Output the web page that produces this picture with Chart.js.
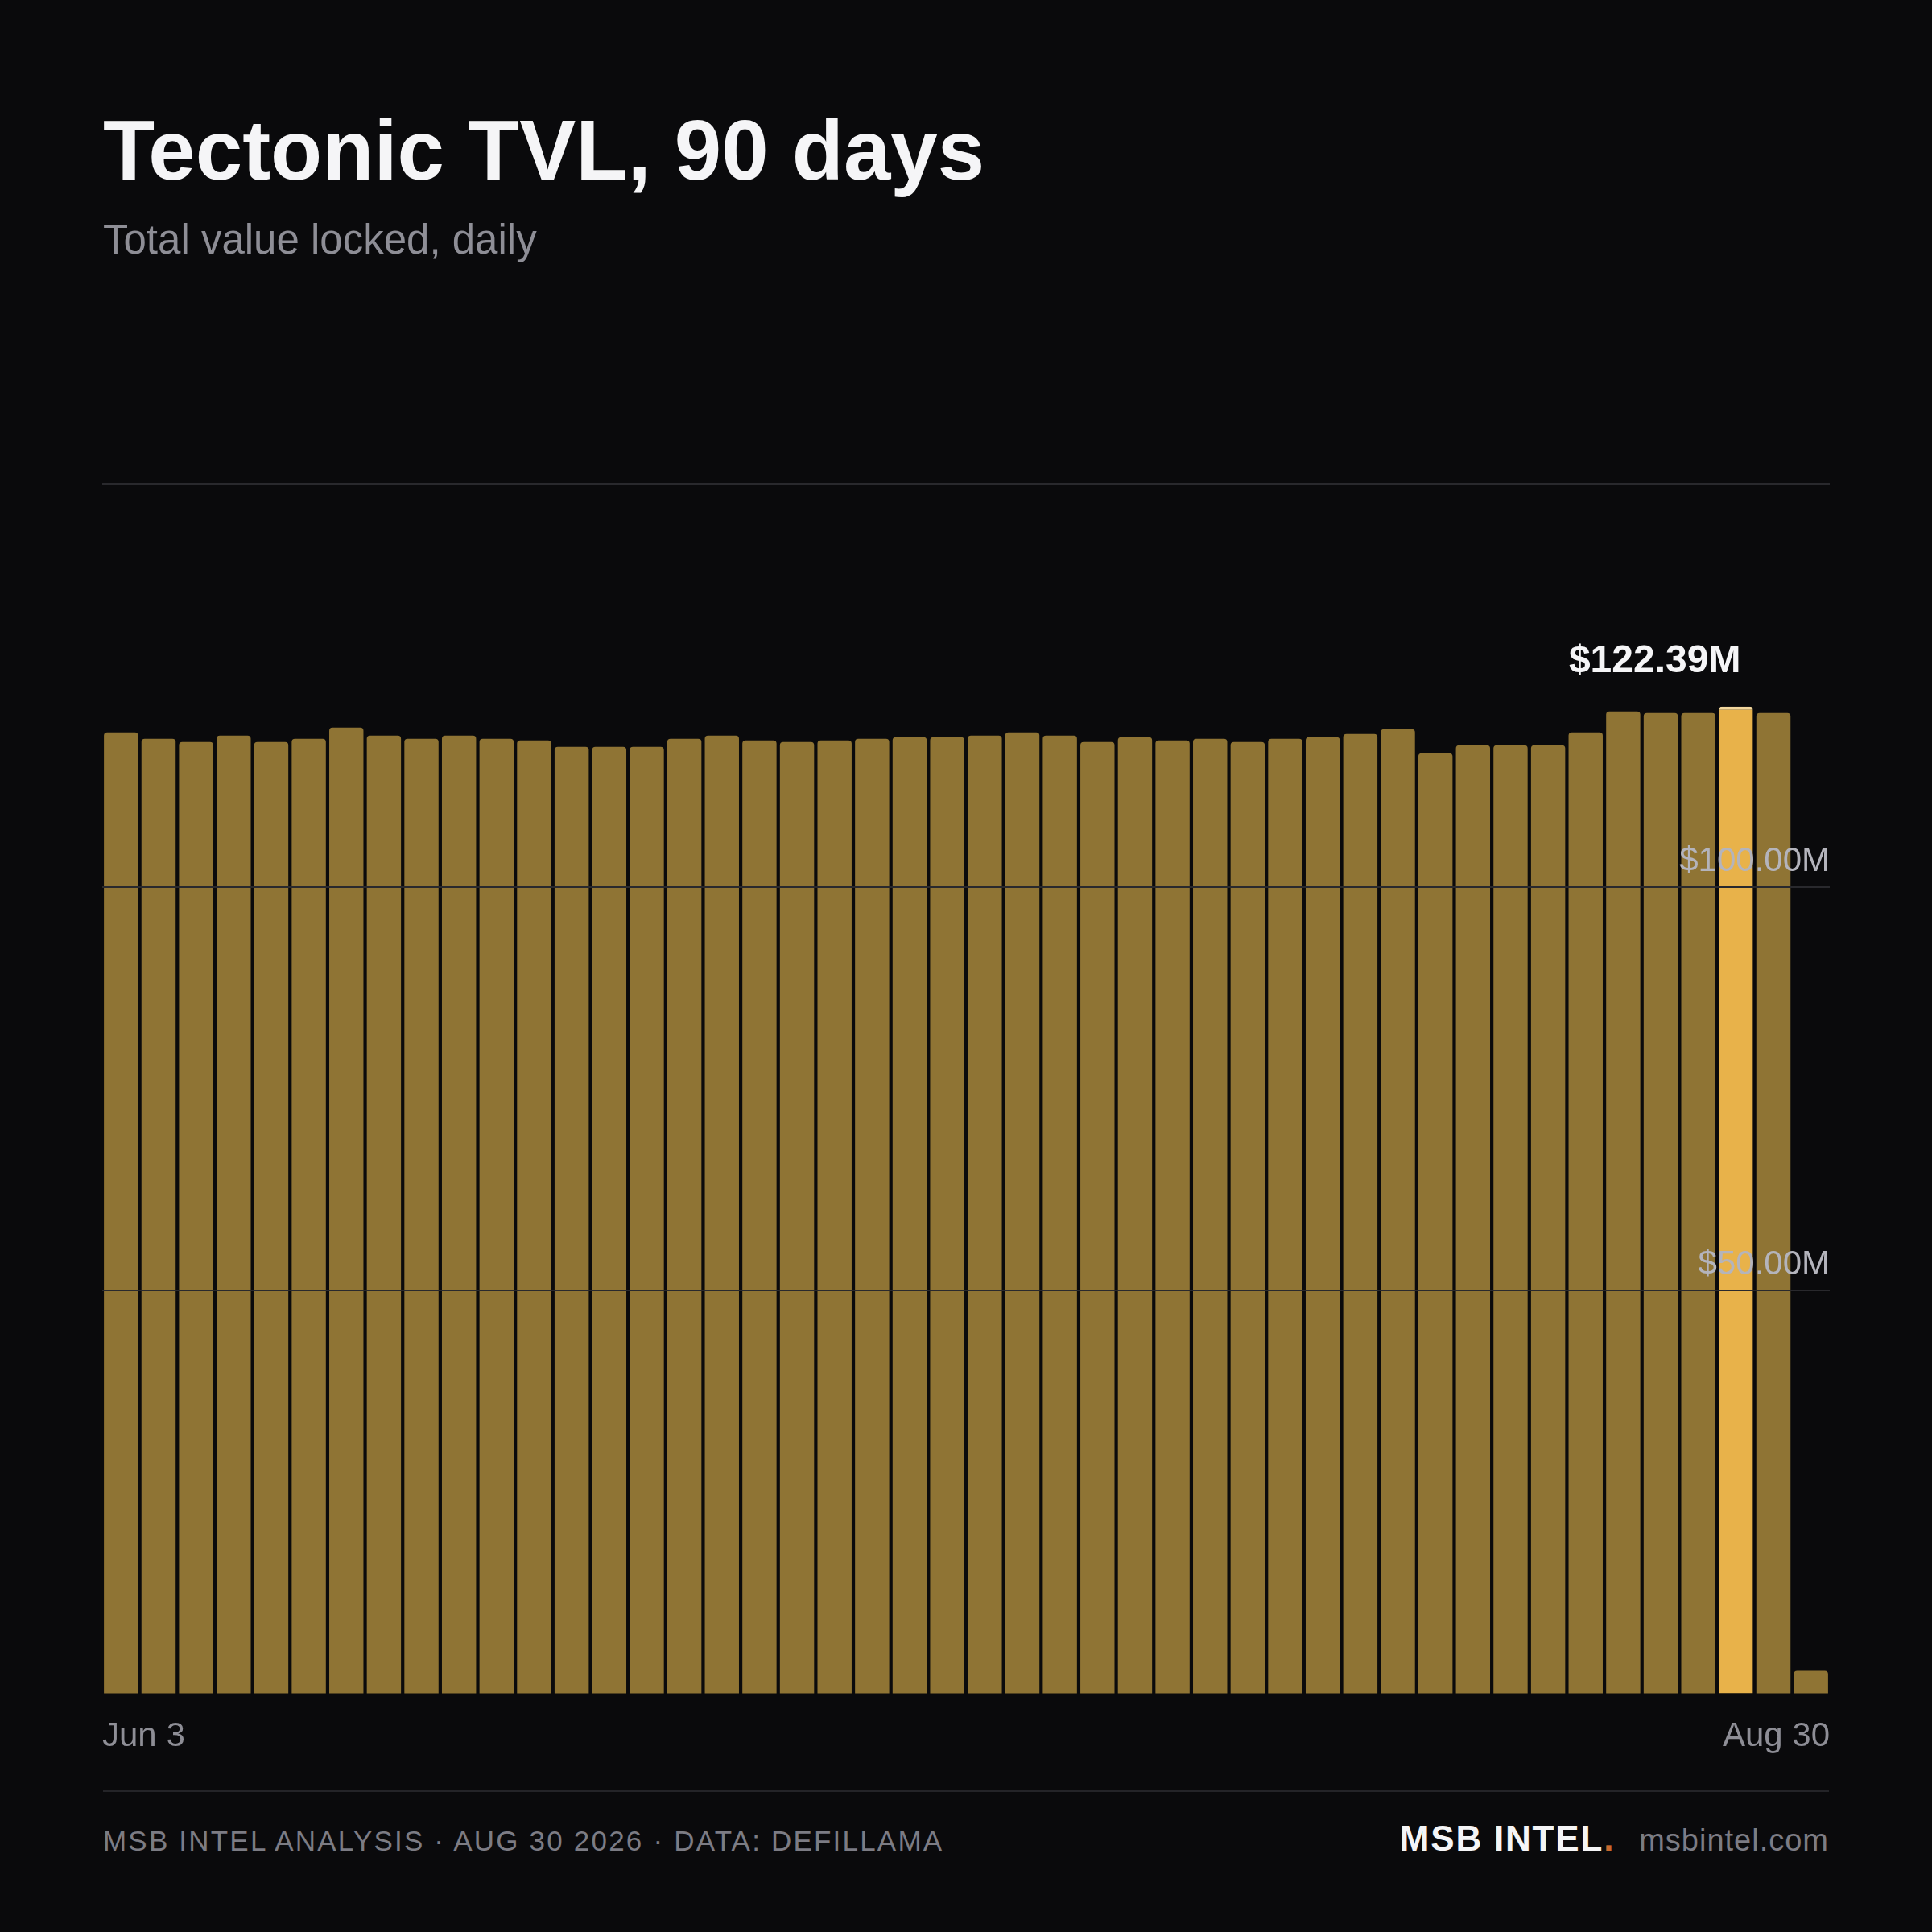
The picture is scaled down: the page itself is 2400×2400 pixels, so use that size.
<!DOCTYPE html>
<html lang="en">

<head>
    <meta charset="UTF-8">
    <title>Tectonic TVL, 90 days</title>
    <style>
        body {
            margin: 0;
            background: #0a0a0c;
            font-family: "Liberation Sans", Arial, sans-serif;
        }

        .page {
            position: relative;
            width: 2400px;
            height: 2400px;
            background: #0a0a0c;
            overflow: hidden;
        }

        .title {
            position: absolute;
            left: 128px;
            top: 134px;
            margin: 0;
            font-size: 105px;
            line-height: 1;
            font-weight: bold;
            color: #f5f5f7;
        }

        .subtitle {
            position: absolute;
            left: 128px;
            top: 272px;
            font-size: 51px;
            line-height: 1;
            color: #8e8e96;
        }

        /* wider than the plot: the edge-label axis pads each side */
        .chart-box {
            position: absolute;
            left: 107px;
            top: 560px;
            width: 2186px;
            height: 1643px;
        }

        .rule {
            position: absolute;
            left: 128px;
            top: 2224px;
            width: 2144px;
            height: 2px;
            background: #242428;
        }

        .source {
            position: absolute;
            left: 128px;
            top: 2269px;
            font-size: 35px;
            line-height: 1;
            letter-spacing: 2.2px;
            color: #7c7c84;
        }

        .brand {
            position: absolute;
            right: 128px;
            top: 2262px;
            display: flex;
            align-items: baseline;
            line-height: 1;
        }

        .brand b {
            font-size: 44px;
            color: #f5f5f7;
            letter-spacing: 1.8px;
        }

        .brand b span {
            color: #c8692e;
        }

        .brand i {
            font-style: normal;
            font-size: 38px;
            letter-spacing: 1px;
            color: #7c7c84;
            margin-left: 30px;
        }
    </style>
</head>

<body>
    <div class="page">
        <h1 class="title">Tectonic TVL, 90 days</h1>
        <div class="subtitle">Total value locked, daily</div>
        <div class="chart-box"><canvas id="tvlBars"></canvas></div>
        <div class="rule"></div>
        <div class="source">MSB INTEL ANALYSIS · AUG 30 2026 · DATA: DEFILLAMA</div>
        <div class="brand"><b>MSB INTEL<span>.</span></b><i>msbintel.com</i></div>
    </div>
    <script src="https://cdn.jsdelivr.net/npm/chart.js"></script>
    <script>
        // sampled days, Jun 3 .. Aug 30
        const days = [
            'Jun 3', 'Jun 5', 'Jun 7', 'Jun 9', 'Jun 11', 'Jun 13', 'Jun 15', 'Jun 17',
            'Jun 19', 'Jun 21', 'Jun 23', 'Jun 25', 'Jun 27', 'Jun 29',
            'Jul 1', 'Jul 3', 'Jul 5', 'Jul 7', 'Jul 9', 'Jul 11', 'Jul 13', 'Jul 15',
            'Jul 17', 'Jul 19', 'Jul 21', 'Jul 23', 'Jul 25', 'Jul 27', 'Jul 29', 'Jul 31',
            'Aug 2', 'Aug 4', 'Aug 6', 'Aug 8', 'Aug 10', 'Aug 12', 'Aug 14', 'Aug 16',
            'Aug 18', 'Aug 20', 'Aug 22', 'Aug 24', 'Aug 26', 'Aug 28', 'Aug 29', 'Aug 30'
        ];

        // TVL in $M
        const tvl = [
            119.2, 118.4, 118.0, 118.8, 118.0, 118.4, 119.8, 118.8,
            118.4, 118.8, 118.4, 118.2, 117.4, 117.4,
            117.4, 118.4, 118.8, 118.2, 118.0, 118.2, 118.4, 118.6,
            118.6, 118.8, 119.2, 118.8, 118.0, 118.6, 118.2, 118.4,
            118.0, 118.4, 118.6, 119.0, 119.6, 116.6, 117.6, 117.6,
            117.6, 119.2, 121.8, 121.6, 121.6, 122.39, 121.6, 2.9
        ];

        const yTicks = [0, 50, 100, 150];
        const yTickLabels = ['', '$50.00M', '$100.00M', ''];
        const xEdgeLabels = ['Jun 3', 'Aug 30'];

        const peakIdx = tvl.indexOf(Math.max(...tvl));
        const peakLabel = '$' + tvl[peakIdx].toFixed(2) + 'M';

        const barColors = tvl.map((v, i) => i === peakIdx ? '#e8b24a' : '#8f7434');
        const barBorders = tvl.map((v, i) => i === peakIdx ? {top: 4, left: 0, right: 0, bottom: 0} : 0);

        const peakText = {
            id: 'peakText',
            afterDatasetsDraw(chart) {
                const bar = chart.getDatasetMeta(0).data[peakIdx];
                const ctx = chart.ctx;
                ctx.save();
                ctx.font = 'bold 48px "Liberation Sans", Arial, sans-serif';
                ctx.fillStyle = '#f5f5f7';
                ctx.textAlign = 'right';
                ctx.textBaseline = 'alphabetic';
                ctx.fillText(peakLabel, bar.x + 6, bar.y - 43);
                ctx.restore();
            }
        };

        new Chart(document.getElementById('tvlBars'), {
            type: 'bar',
            data: {
                labels: days,
                datasets: [{
                    data: tvl,
                    backgroundColor: barColors,
                    borderColor: '#f2d79e',
                    borderWidth: barBorders,
                    borderSkipped: 'start',
                    borderRadius: 4,
                    barPercentage: 0.91,
                    categoryPercentage: 1
                }]
            },
            options: {
                responsive: true,
                maintainAspectRatio: false,
                animation: false,
                layout: { padding: { top: 41, left: 0, right: 0, bottom: 0 } },
                plugins: {
                    legend: { display: false },
                    tooltip: { enabled: false }
                },
                scales: {
                    x: {
                        display: false
                    },
                    xEdge: {
                        type: 'linear',
                        position: 'bottom',
                        offset: false,
                        min: 0,
                        max: 1,
                        grid: { display: false },
                        border: { display: false },
                        afterBuildTicks: axis => { axis.ticks = [{ value: 0 }, { value: 1 }]; },
                        ticks: {
                            align: 'inner',
                            autoSkip: false,
                            maxRotation: 0,
                            padding: 20,
                            color: '#8e8e96',
                            font: { size: 42, family: '"Liberation Sans", Arial, sans-serif' },
                            callback: (v, i) => xEdgeLabels[i]
                        }
                    },
                    y: {
                        position: 'right',
                        min: 0,
                        max: 150,
                        afterBuildTicks: axis => { axis.ticks = yTicks.map(v => ({ value: v })); },
                        grid: {
                            z: 1,
                            drawTicks: false,
                            lineWidth: 2,
                            color: c => c.tick && c.tick.value === 0 ? 'rgba(0,0,0,0)' : '#29292d'
                        },
                        border: { display: false },
                        ticks: {
                            z: 1,
                            mirror: true,
                            padding: 0,
                            labelOffset: -32,
                            color: '#b4b4bc',
                            font: { size: 42, family: '"Liberation Sans", Arial, sans-serif' },
                            callback: (v, i) => yTickLabels[yTicks.indexOf(v)]
                        }
                    }
                }
            },
            plugins: [peakText]
        });
    </script>
</body>

</html>
